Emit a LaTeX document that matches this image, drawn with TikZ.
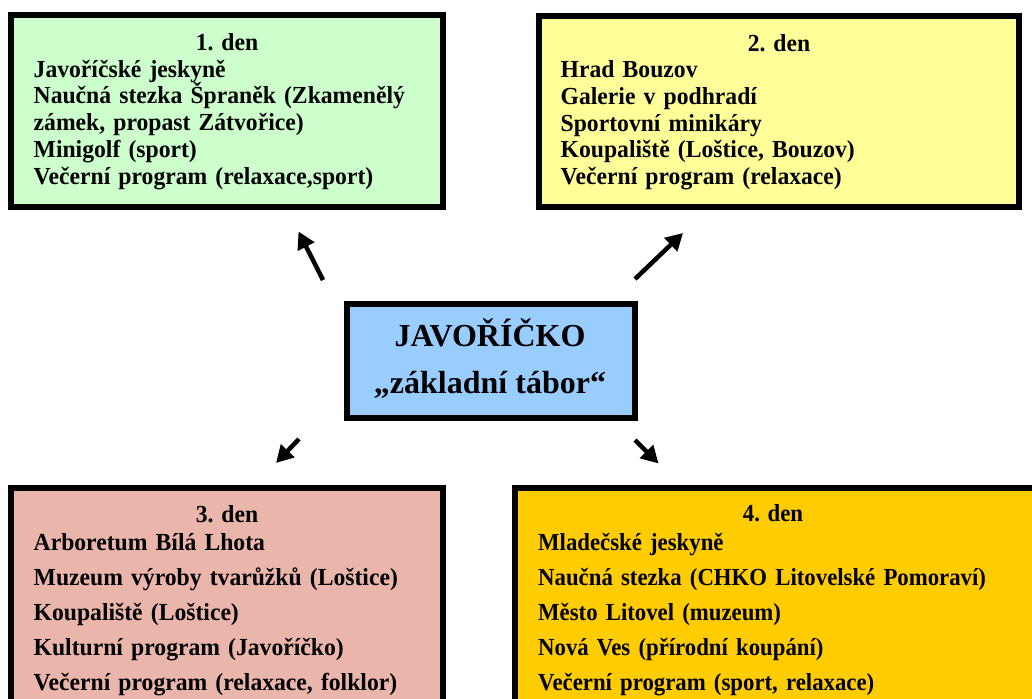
\documentclass[tikz,border=0pt]{standalone}
\usepackage{fontspec}
\setmainfont{Liberation Serif}
\newfontfamily\boxfont[FakeStretch=0.965]{Liberation Serif}
\newfontfamily\narrowfont[FakeStretch=0.93]{Liberation Serif}
\usetikzlibrary{arrows.meta}
\definecolor{cgreen}{HTML}{CCFFCC}
\definecolor{cyellow}{HTML}{FFFF99}
\definecolor{cblue}{HTML}{99CCFF}
\definecolor{crose}{HTML}{EAB5AB}
\definecolor{cgold}{HTML}{FFCC00}
\tikzset{
  daybox/.style={draw=black, line width=6pt},
  head/.style={anchor=base, inner sep=0pt, font=\boxfont\fontsize{24.5}{26.7}\selectfont\bfseries},
  items/.style={anchor=base west, inner sep=0pt, text width=480pt, align=left, font=\boxfont\fontsize{24.5}{26.7}\selectfont\bfseries},
  itemswide/.style={items, font=\boxfont\fontsize{24.5}{35}\selectfont\bfseries},
  itemsnarrow/.style={items, font=\narrowfont\fontsize{24.5}{35}\selectfont\bfseries},
  title/.style={anchor=base, inner sep=0pt, font=\fontsize{32}{34}\selectfont\bfseries},
  arr/.style={line width=4.5pt, -{Triangle[length=17pt,width=18pt]}}
}
\begin{document}
\begin{tikzpicture}[x=1pt,y=-1pt]
\useasboundingbox (0,0) rectangle (1032,698);
% boxes
\path[daybox, fill=cgreen] (11,15) rectangle (443,207) node[midway] (b1) {};
\path[daybox, fill=cyellow] (539,16) rectangle (1019,207) node[midway] (b2) {};
\path[daybox, fill=cblue] (347,304) rectangle (635,418) node[midway] (b0) {};
\path[daybox, fill=crose] (11,488) rectangle (443,720) node[midway] (b3) {};
\path[daybox, fill=cgold] (515,488) rectangle (1045,720) node[midway] (b4) {};
% day 1
\node[head] (h1) at (227,50.7) {1. den};
\node[items] (t1) at (33.5,77.3) {Javoříčské jeskyně\\Naučná stezka Špraněk (Zkamenělý\\zámek, propast Zátvořice)\\Minigolf (sport)\\Večerní program (relaxace,sport)};
% day 2
\node[head] (h2) at (779,51.7) {2. den};
\node[items] (t2) at (560.5,77.7) {Hrad Bouzov\\Galerie v podhradí\\Sportovní minikáry\\Koupaliště (Loštice, Bouzov)\\Večerní program (relaxace)};
% centre
\node[title] (c1) at (490,346.7) {JAVOŘÍČKO};
\node[title] (c2) at (490,393.3) {„základní tábor“};
% day 3
\node[head] (h3) at (227,522.3) {3. den};
\node[itemswide] (t3) at (33.5,550) {Arboretum Bílá Lhota\\Muzeum výroby tvarůžků (Loštice)\\Koupaliště (Loštice)\\Kulturní program (Javoříčko)\\Večerní program (relaxace, folklor)};
% day 4
\node[head, font=\narrowfont\fontsize{24.5}{26.7}\selectfont\bfseries] (h4) at (773,521.7) {4. den};
\node[itemsnarrow] (t4) at (538,550) {Mladečské jeskyně\\Naučná stezka (CHKO Litovelské Pomoraví)\\Město Litovel (muzeum)\\Nová Ves (přírodní koupání)\\Večerní program (sport, relaxace)};
% arrows
\coordinate (a1s) at (323,280);
\coordinate (a1e) at (298.5,231.5);
\coordinate (a2s) at (635,279);
\coordinate (a2e) at (683,233);
\coordinate (a3s) at (299,439);
\coordinate (a3e) at (276,463);
\coordinate (a4s) at (635,440);
\coordinate (a4e) at (658.5,463.5);
\draw[arr] (a1s) -- (a1e);
\draw[arr] (a2s) -- (a2e);
\draw[arr] (a3s) -- (a3e);
\draw[arr] (a4s) -- (a4e);
\end{tikzpicture}
\end{document}
